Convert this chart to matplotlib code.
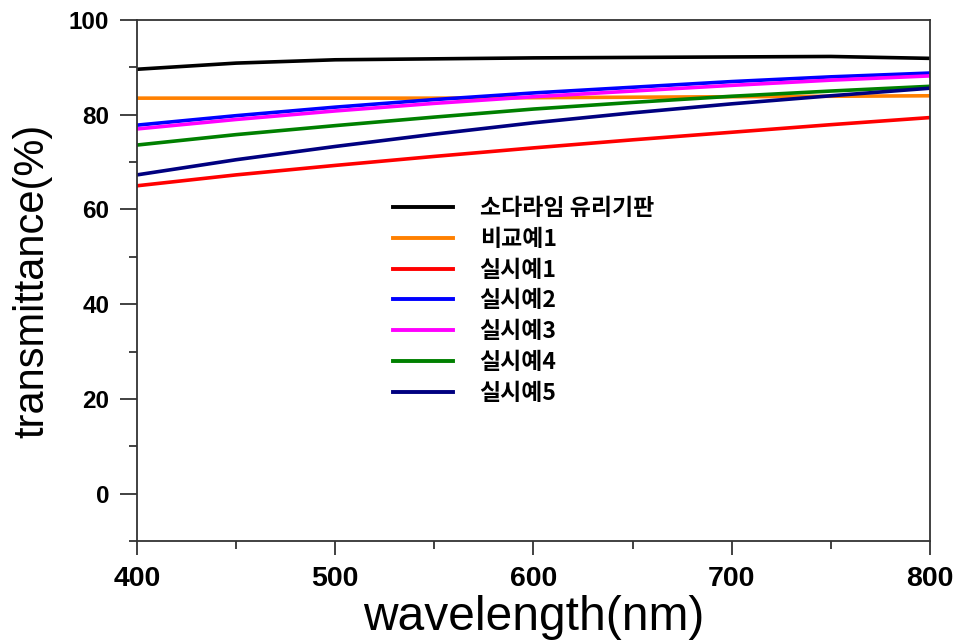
import matplotlib
matplotlib.use("Agg")
import matplotlib.pyplot as plt
from matplotlib.ticker import MultipleLocator

wavelength = [400, 450, 500, 550, 600, 650, 700, 750, 800]

series_names = ["소다라임 유리기판", "비교예1", "실시예1", "실시예2", "실시예3", "실시예4", "실시예5"]
soda_lime = [89.6, 90.9, 91.6, 91.8, 92.0, 92.1, 92.2, 92.3, 91.9]
comp1 = [83.5, 83.5, 83.5, 83.5, 83.6, 83.7, 83.8, 83.9, 84.0]
ex1 = [65.0, 67.3, 69.3, 71.2, 73.0, 74.7, 76.3, 77.9, 79.4]
ex2 = [77.8, 79.8, 81.6, 83.2, 84.6, 85.8, 87.0, 88.0, 88.8]
ex3 = [77.0, 79.0, 80.8, 82.4, 83.8, 85.0, 86.2, 87.3, 88.2]
ex4 = [73.6, 75.8, 77.7, 79.5, 81.2, 82.6, 83.9, 85.0, 86.0]
ex5 = [67.3, 70.5, 73.3, 75.9, 78.3, 80.4, 82.3, 84.0, 85.6]
colors = ["#000000", "#FF8000", "#FF0000", "#0000FF", "#FF00FF", "#008000", "#000080"]

x_ticks = [400, 500, 600, 700, 800]
y_ticks = [0, 20, 40, 60, 80, 100]

fig = plt.figure(figsize=(9.59, 6.43), dpi=100)
ax = fig.add_axes([137/959, 1 - 541/643, (930-137)/959, (541-20)/643])

for name, vals, c in zip(series_names, [soda_lime, comp1, ex1, ex2, ex3, ex4, ex5], colors):
    ax.plot(wavelength, vals, color=c, lw=2.6, label=name)

ax.set_xlim(400, 800)
ax.set_ylim(-10, 100)
ax.set_xticks(x_ticks)
ax.set_yticks(y_ticks)
ax.xaxis.set_minor_locator(MultipleLocator(50))
ax.yaxis.set_minor_locator(MultipleLocator(10))
ax.tick_params(axis='x', which='major', direction='out', length=10, width=1.3, color='#333333')
ax.tick_params(axis='y', which='major', direction='out', length=12, width=1.3, color='#333333')
ax.tick_params(axis='both', which='minor', direction='out', length=6, width=1.3, color='#333333')
ax.tick_params(top=False, right=False, which='both')

for lab in ax.get_xticklabels():
    lab.set_fontfamily('Liberation Sans'); lab.set_fontweight('bold'); lab.set_fontsize(20.5)
for lab in ax.get_yticklabels():
    lab.set_fontfamily('Liberation Sans'); lab.set_fontweight('bold'); lab.set_fontsize(17.5)
ax.tick_params(axis='x', pad=8)
ax.tick_params(axis='y', pad=8)

for s in ax.spines.values():
    s.set_color('#333333'); s.set_linewidth(1.3)

ax.set_xlabel("wavelength(nm)", fontfamily='Liberation Sans', fontsize=34.5, labelpad=2)
ax.set_ylabel("transmittance(%)", fontfamily='Liberation Sans', fontsize=30, labelpad=12)

leg = ax.legend(loc='upper left', bbox_to_anchor=((393-137)/793, (541-197)/521),
                frameon=False, borderpad=0, borderaxespad=0,
                handlelength=2.6, handletextpad=1.18, labelspacing=0.34,
                prop={'family': ['Noto Sans CJK KR', 'DejaVu Sans'], 'weight': 'bold', 'size': 16.5})
for l in leg.get_lines():
    l.set_linewidth(2.8)

fig.savefig("out.png", dpi=100)
